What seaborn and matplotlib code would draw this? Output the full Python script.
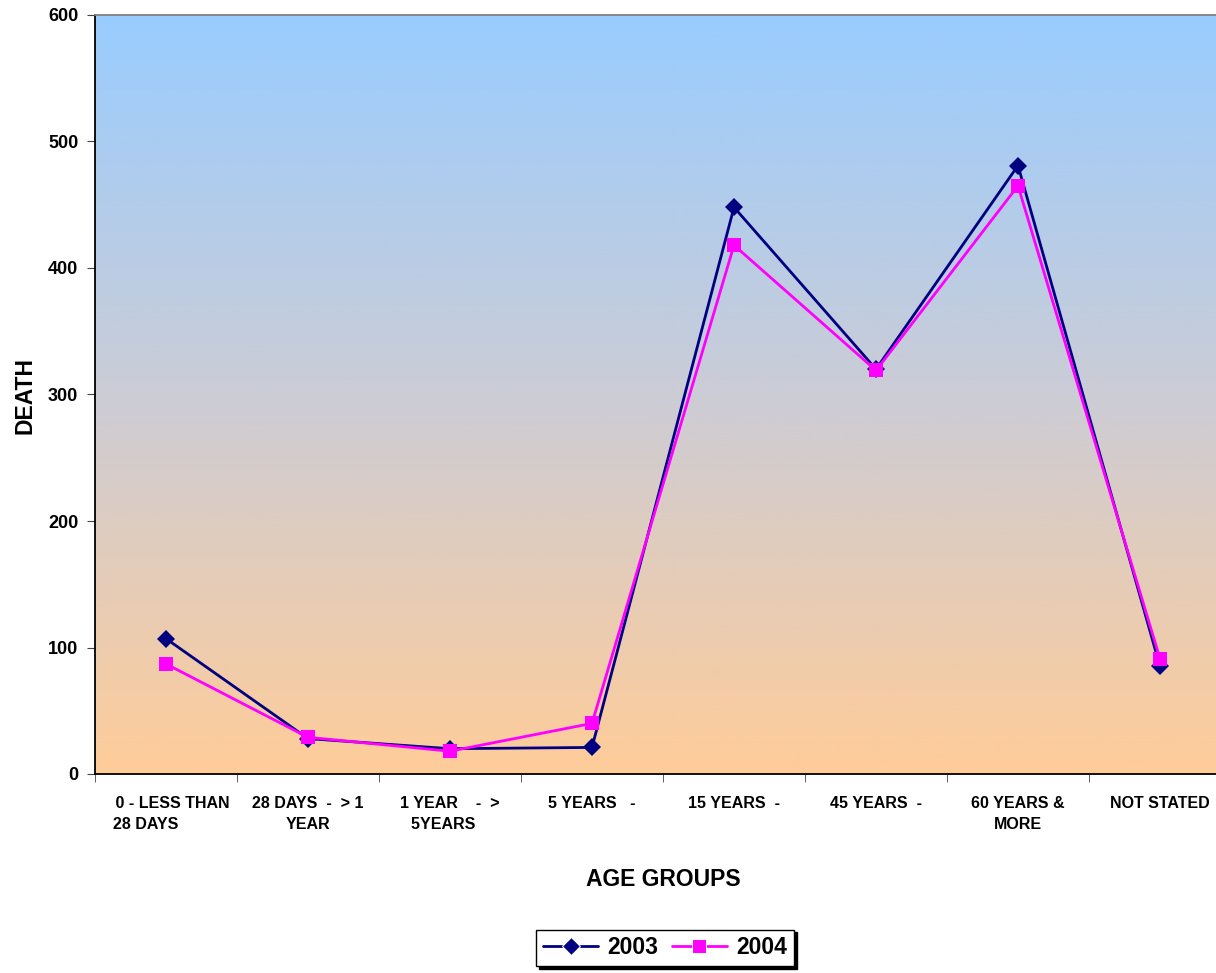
#deaths by age group, 2003 vs 2004
import numpy as np
import matplotlib
matplotlib.use("Agg")
import matplotlib.pyplot as plt
from matplotlib.colors import LinearSegmentedColormap
import seaborn as sns

age_groups = ["   0 - LESS THAN\n28 DAYS         ", "28 DAYS  -  > 1\nYEAR", "1 YEAR    -  >\n5YEARS   ",
              "5 YEARS   -", "15 YEARS  -", "45 YEARS  -", "60 YEARS &\nMORE", "NOT STATED"]
deaths_2003 = [107, 28, 20, 21, 448, 320, 481, 85]
deaths_2004 = [87, 29, 18, 40, 418, 319, 465, 91]
y_ticks = [0, 100, 200, 300, 400, 500, 600]

sns.set_style("white")
plt.rcParams['font.family'] = ['Liberation Sans', 'DejaVu Sans']
plt.rcParams['text.color'] = 'black'
plt.rcParams['xtick.labelcolor'] = 'black'
plt.rcParams['ytick.labelcolor'] = 'black'

fig = plt.figure(figsize=(12.16, 9.73), dpi=100)
ax = fig.add_axes([95/1216, 1-774/973, 1136/1216, 759/973])

# gradient plot area (blue top -> peach bottom)
cmap = LinearSegmentedColormap.from_list("bg", ["#FFCC99", "#CCCCD6", "#99CCFF"])
grad = np.linspace(0, 1, 256).reshape(-1, 1)
ax.imshow(grad, cmap=cmap, origin="lower", aspect="auto",
          extent=(-0.5, 7.5, 0, 600), zorder=0)

x = list(range(len(age_groups)))
sns.lineplot(x=x, y=deaths_2003, ax=ax, color="#000080", marker="D", markersize=9,
             linewidth=2, label="2003", sort=False, zorder=3)
sns.lineplot(x=x, y=deaths_2004, ax=ax, color="#FF00FF", marker="s", markersize=10,
             linewidth=2, label="2004", sort=False, zorder=4)
for ln in ax.lines:
    ln.set_markeredgewidth(0)

ax.set_xlim(-0.5, 7.5)
ax.set_ylim(0, 600)
ax.set_yticks(y_ticks)
ax.set_yticklabels([str(v) for v in y_ticks], fontsize=13, fontweight="bold")
ax.set_xticks(x)
ax.set_xticklabels(age_groups, fontsize=11.5, fontweight="bold", linespacing=1.45)
ax.set_xticks([i - 0.5 for i in range(len(age_groups) + 1)], minor=True)
ax.tick_params(axis="x", which="major", length=0, pad=16)
ax.tick_params(axis="x", which="minor", length=6, color="#444444", direction="out", bottom=True)
ax.tick_params(axis="y", length=6, color="#444444", direction="out", left=True, pad=6)
for lab in ax.get_xticklabels():
    lab.set_multialignment("center")

for s in ["left", "bottom"]:
    ax.spines[s].set_color("black")
    ax.spines[s].set_linewidth(1.3)
ax.spines["top"].set_color("#808080")
ax.spines["top"].set_linewidth(1.3)
ax.spines["right"].set_visible(False)
ax.set_xlabel("")
ax.set_ylabel("")

fig.text(663/1216, 1-880/973, "AGE GROUPS", fontsize=16.5, fontweight="bold", ha="center", va="center")
fig.text(25/1216, 1-395/973, "DEATH", fontsize=16.5, fontweight="bold", ha="center", va="center", rotation=90)

sns.move_legend(ax, "center", bbox_to_anchor=(665/1216, 1-948/973), bbox_transform=fig.transFigure,
                ncol=2, frameon=True, fancybox=False, edgecolor="black", framealpha=1,
                shadow={"color": "black", "alpha": 1}, prop={"size": 16.5, "weight": "bold"},
                handlelength=2.4, columnspacing=0.6, handletextpad=0.4, borderpad=0.3)
leg = ax.get_legend()
leg.get_frame().set_linewidth(1)
for t in leg.get_texts():
    t.set_color("black")

fig.savefig("out.png", dpi=100)
